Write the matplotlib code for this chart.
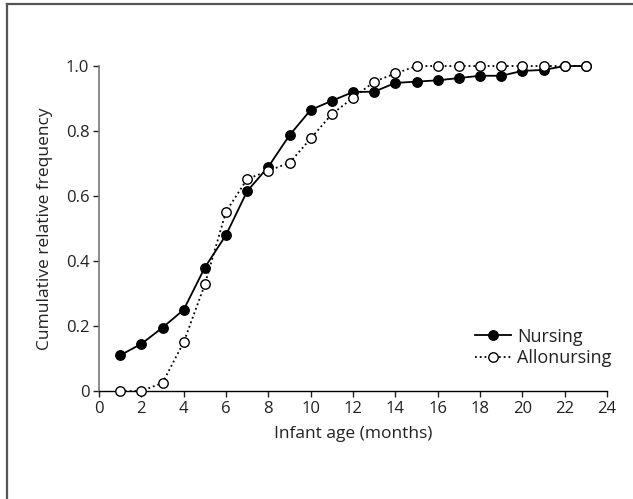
import matplotlib
matplotlib.use("Agg")
import matplotlib.pyplot as plt
from matplotlib.lines import Line2D

plt.rcParams['font.family'] = ['Open Sans', 'DejaVu Sans']

months = list(range(1, 24))
nursing = [0.11, 0.145, 0.195, 0.25, 0.38, 0.48, 0.615, 0.69, 0.787, 0.865,
           0.893, 0.92, 0.921, 0.948, 0.952, 0.956, 0.963, 0.97, 0.97, 0.985,
           0.988, 1.0, 1.0]
allonursing = [0.0, 0.0, 0.025, 0.15, 0.328, 0.552, 0.652, 0.678, 0.702, 0.777,
               0.852, 0.902, 0.952, 0.977, 1.0, 1.0, 1.0, 1.0, 1.0, 1.0,
               1.0, 1.0, 1.0]
xticks = list(range(0, 25, 2))
yticks = [0, 0.2, 0.4, 0.6, 0.8, 1.0]
ytick_labels = ['0', '0.2', '0.4', '0.6', '0.8', '1.0']

fig = plt.figure(figsize=(6.33, 4.99), dpi=100)
ax = fig.add_axes([0.1564, 0.2164, 0.8026, 0.6513])

ax.plot(months, nursing, '-', color='black', lw=1.3, marker='o', ms=6.8,
        mfc='black', mec='black', clip_on=False, zorder=3, label='Nursing')
ax.plot(months, allonursing, ':', color='black', lw=1.3, marker='o', ms=6.8,
        mfc='white', mec='black', mew=1.0, clip_on=False, zorder=4,
        label='Allonursing')

ax.set_xlim(0, 24)
ax.set_ylim(0, 1.0)
ax.set_xticks(xticks)
ax.set_yticks(yticks)
ax.set_yticklabels(ytick_labels)
ax.tick_params(direction='out', length=4, width=1, labelsize=12, pad=3,
               colors='#222222')
ax.spines['top'].set_visible(False)
ax.spines['right'].set_visible(False)
ax.spines['left'].set_color('#777777')
ax.spines['left'].set_linewidth(1.2)
ax.spines['bottom'].set_linewidth(1.0)

ax.set_xlabel('Infant age (months)', fontsize=12.5, labelpad=7, color='#222222')
ax.set_ylabel('Cumulative relative frequency', fontsize=12.5, labelpad=9,
              color='#222222')

ax.legend(loc='lower right', bbox_to_anchor=(1.03, 0.04), frameon=False,
          fontsize=13, handlelength=2.0, handletextpad=0.35,
          labelspacing=0.2, borderaxespad=0.2, labelcolor='#222222')

# outer frame (only top and left edges visible in crop)
fig.add_artist(Line2D([0.0118, 0.0118], [0.0, 0.992], transform=fig.transFigure,
                      color='#555555', lw=1.6))
fig.add_artist(Line2D([0.0118, 1.0], [0.992, 0.992], transform=fig.transFigure,
                      color='#555555', lw=1.6))

fig.savefig('out.png', dpi=100)
